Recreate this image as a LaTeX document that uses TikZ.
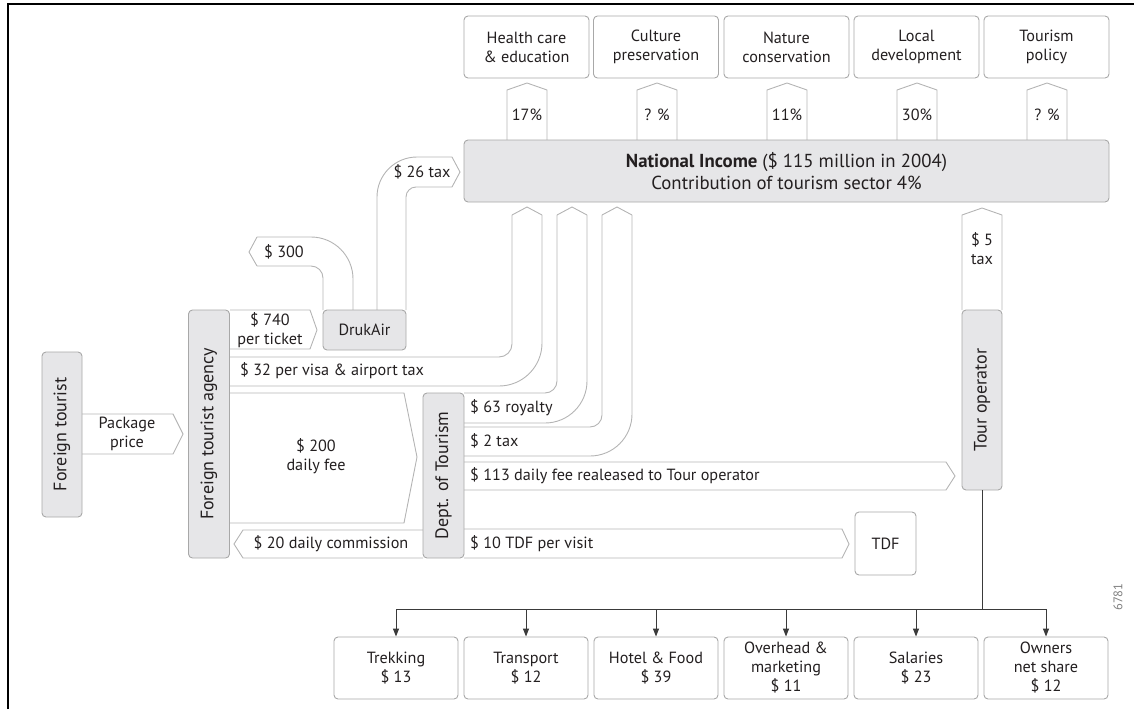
\documentclass[tikz,border=0pt]{standalone}
\usepackage{fontspec}
\setmainfont{PT Sans}
\usetikzlibrary{arrows.meta}
\definecolor{bandline}{HTML}{B4B4B4}
\definecolor{boxfill}{HTML}{E6E6E8}
\definecolor{boxline}{HTML}{A8A8A8}
\definecolor{ink}{HTML}{231F20}
\definecolor{treeline}{HTML}{3A3A3A}
\begin{document}
\begin{tikzpicture}[x=1pt,y=-1pt, font=\fontsize{16.2}{19}\selectfont, text=ink,
 graybox/.style={draw=boxline, fill=boxfill, rounded corners=4pt, line width=0.9pt, inner sep=0pt, align=center},
 vbox/.style={graybox, font=\fontsize{18}{20}\selectfont},
 whitebox/.style={draw=boxline, fill=white, rounded corners=4pt, line width=0.9pt, inner sep=0pt, align=center},
 band/.style={draw=bandline, line width=0.9pt, line join=miter},
 lbl/.style={inner sep=0pt, align=center},
 tree/.style={draw=treeline, line width=1pt},
 treearrow/.style={tree, -{Triangle[length=8pt,width=6pt]}}]
\useasboundingbox (0,0) rectangle (1134,709);
% frame
\draw[line width=1.8pt] (8,709) -- (8,4) -- (1134,4);

% ---- flow bands ----
% package price
\draw[band] (82,414) -- (173,414) -- (183,434) -- (173,454) -- (82,454);
% 740 per ticket
\draw[band] (230,310) -- (310,310) -- (317,330) -- (310,349) -- (230,349);
% 300
\draw[band, rounded corners=42pt] (353,310) -- (353,237) -- (257,237);
\draw[band] (257,237) -- (249,252) -- (257,266);
\draw[band, rounded corners=12pt] (257,266) -- (323,266) -- (323,310);
% 26 tax
\draw[band, rounded corners=40pt] (377,310) -- (377,157) -- (452,157);
\draw[band] (452,157) -- (460,172) -- (452,187);
\draw[band, rounded corners=10pt] (452,187) -- (406,187) -- (406,310);
% 32 per visa (band A)
\draw[band, rounded corners=13pt] (230,357) -- (512,357) -- (512,215);
\draw[band, rounded corners=43pt] (230,386) -- (542,386) -- (542,215);
\draw[band] (512,215) -- (527,207) -- (542,215);
% 63 royalty (band B)
\draw[band, rounded corners=12pt] (464,393) -- (557,393) -- (557,215);
\draw[band, rounded corners=42pt] (464,423) -- (587,423) -- (587,215);
\draw[band] (557,215) -- (572,207) -- (587,215);
% 2 tax (band C)
\draw[band, rounded corners=12pt] (464,427) -- (602,427) -- (602,215);
\draw[band, rounded corners=42pt] (464,456) -- (632,456) -- (632,215);
\draw[band] (602,215) -- (617,207) -- (632,215);
% 200 daily fee
\draw[band] (230,393) -- (404,393) -- (417,457) -- (404,523) -- (230,523);
% 113 daily fee
\draw[band] (464,462) -- (946,462) -- (955,476) -- (946,490) -- (464,490);
% 10 TDF
\draw[band] (464,529) -- (842,529) -- (849,544) -- (842,558) -- (464,558);
% 20 commission
\draw[band] (423,530) -- (243,530) -- (234,544) -- (243,558) -- (423,558);
% 5 tax
\draw[band] (962,310) -- (962,215) -- (982,208) -- (1002,215) -- (1002,310);
% percentage arrows
\foreach \cx in {527,657,787,917,1047}{
  \draw[band] (\cx-20,140) -- (\cx-20,90) -- (\cx,83) -- (\cx+20,90) -- (\cx+20,140);
}

% ---- boxes ----
\node[vbox, minimum width=40pt, minimum height=165pt] (tourist) at (62,434.5) {\rotatebox{90}{Foreign tourist}};
\node[vbox, minimum width=41pt, minimum height=248pt] (agency) at (209,434) {\rotatebox{90}{Foreign tourist agency}};
\node[vbox, minimum width=41pt, minimum height=165pt] (dept) at (443.5,475.5) {\rotatebox{90}{Dept. of Tourism}};
\node[vbox, minimum width=40pt, minimum height=180pt] (tour) at (982,400) {\rotatebox{90}{Tour operator}};
\node[graybox, minimum width=83pt, minimum height=40pt] (druk) at (364.5,330) {DrukAir};
\node[graybox, minimum width=645pt, minimum height=62pt, font=\fontsize{18.8}{22}\selectfont] (ni) at (786.5,171)
  {\textbf{National Income} (\$ 115 million in 2004)\\Contribution of tourism sector 4\%};
\node[whitebox, minimum width=61pt, minimum height=63pt] (tdf) at (885.5,543.5) {TDF};

\node[whitebox, minimum width=125pt, minimum height=62pt] (t1) at (526.5,47) {Health care\\\& education};
\node[whitebox, minimum width=125pt, minimum height=62pt] (t2) at (656,47) {Culture\\preservation};
\node[whitebox, minimum width=125pt, minimum height=62pt] (t3) at (786.5,47) {Nature\\conservation};
\node[whitebox, minimum width=125pt, minimum height=62pt] (t4) at (916.5,47) {Local\\development};
\node[whitebox, minimum width=125pt, minimum height=62pt] (t5) at (1046.5,47) {Tourism\\policy};

\node[whitebox, minimum width=124pt, minimum height=62pt] (b1) at (396,668) {Trekking\\\$ 13};
\node[whitebox, minimum width=124pt, minimum height=62pt] (b2) at (526,668) {Transport\\\$ 12};
\node[whitebox, minimum width=124pt, minimum height=62pt] (b3) at (656,668) {Hotel \& Food\\\$ 39};
\node[whitebox, minimum width=124pt, minimum height=62pt] (b4) at (786,668) {Overhead \&\\marketing\\\$ 11};
\node[whitebox, minimum width=124pt, minimum height=62pt] (b5) at (916,668) {Salaries\\\$ 23};
\node[whitebox, minimum width=124pt, minimum height=62pt] (b6) at (1046,668) {Owners\\net share\\\$ 12};

% ---- band labels ----
\node[lbl] (lpack) at (127,434) {Package\\price};
\node[lbl] (l740) at (270,330) {\$ 740\\per ticket};
\node[lbl, anchor=west] (l32) at (240,371) {\$ 32 per visa \& airport tax};
\node[lbl] (l200) at (316,456) {\$ 200\\daily fee};
\node[lbl] (l20) at (331,544) {\$ 20 daily commission};
\node[lbl, anchor=west] (l63) at (470,408) {\$ 63 royalty};
\node[lbl, anchor=west] (l2) at (470,441) {\$ 2 tax};
\node[lbl, anchor=west] (l113) at (470,476) {\$ 113 daily fee realeased to Tour operator};
\node[lbl, anchor=west] (l10) at (470,544) {\$ 10 TDF per visit};
\node[lbl] (l300) at (284,252) {\$ 300};
\node[lbl] (l26) at (422,172) {\$ 26 tax};
\node[lbl] (l5) at (982,249) {\$ 5\\tax};
\node[lbl] (p1) at (527,115) {17\%};
\node[lbl] (p2) at (657,115) {? \%};
\node[lbl] (p3) at (787,115) {11\%};
\node[lbl] (p4) at (917,115) {30\%};
\node[lbl] (p5) at (1047,115) {? \%};
\node[lbl, rotate=90, font=\fontsize{12.5}{14}\selectfont, text=gray] (code) at (1118,597) {6781};

% ---- tree ----
\coordinate (j) at (982,609);
\draw[tree] (tour.south) -- (j);
\draw[tree] (b1.north |- j) -- (b6.north |- j);
\foreach \b in {b1,b2,b3,b4,b5,b6}{
  \draw[treearrow] (\b.north |- j) -- (\b.north);
}
\end{tikzpicture}
\end{document}
